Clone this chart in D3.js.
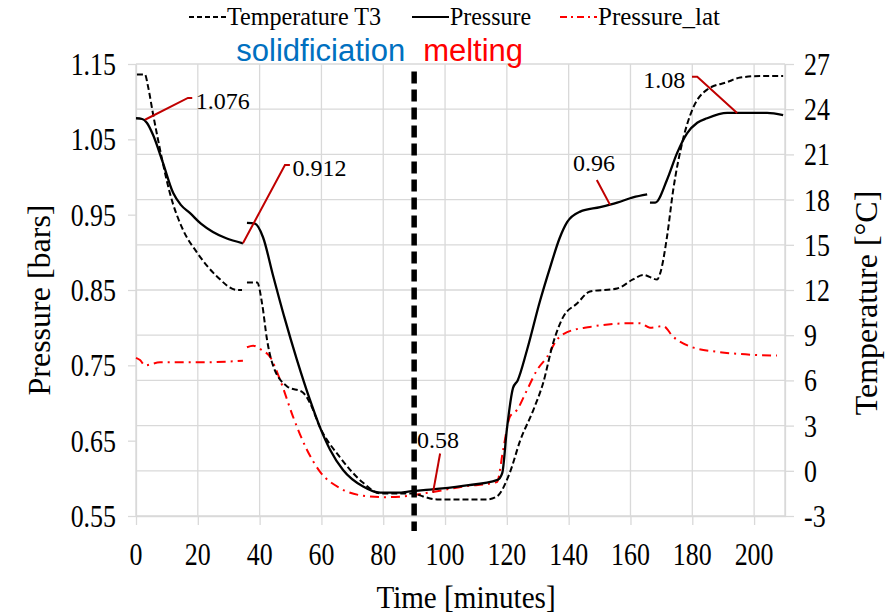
<!DOCTYPE html>
<html>
<head>
<meta charset="utf-8">
<script src="https://cdn.jsdelivr.net/npm/d3@7"></script>
<style>
body { margin: 0; background: #fff; }
text { font-family: "Liberation Serif", "Times New Roman", serif; fill: #000; }
</style>
</head>
<body>
<svg width="889" height="616"></svg>
<script>
// ticks
const timeTicks = [0, 20, 40, 60, 80, 100, 120, 140, 160, 180, 200]
const pressureTicks = [0.55, 0.65, 0.75, 0.85, 0.95, 1.05, 1.15]
const tempTicks = [-3, 0, 3, 6, 9, 12, 15, 18, 21, 24, 27]

// Pressure (left axis), null = gap in the record
const pressTime = [0, 2, 3.5, 5.5, 8.7, 12, 14.5, 17.5, 21, 24.9, 29, 34.6, 35.2,
  35.9, 38.5, 41.1, 44.3, 48, 52.1, 56.3, 59.5, 62.8, 67, 73.5, 79, 84.5, 89.3, 95.1, 105.8, 117, 118.5,
  120, 122, 123.5, 126.5, 130.7, 134, 137, 139.5, 143.7, 150.2, 155.7, 160.8, 165.4, 165.9,
  166.3, 168, 171.8, 175.1, 178.3, 181.6, 184.8, 191.3, 195.5, 204.2, 209.4]
const pressVals = [1.078, 1.077, 1.072, 1.056, 1.019, 0.979, 0.963, 0.952, 0.938, 0.927, 0.919, 0.912, null,
  0.939, 0.938, 0.920, 0.870, 0.814, 0.757, 0.704, 0.668, 0.638, 0.611, 0.589, 0.581, 0.581, 0.583, 0.585, 0.590, 0.598, 0.607,
  0.665, 0.720, 0.730, 0.770, 0.835, 0.880, 0.918, 0.940, 0.954, 0.960, 0.966, 0.973, 0.977, null,
  0.966, 0.966, 0.996, 1.032, 1.058, 1.072, 1.078, 1.085, 1.085, 1.085, 1.082]

// Temperature T3 (right axis)
const tempTime = [0.3, 2.9, 3.9, 5.5, 7.8, 11, 15.2, 19.7, 26.2, 32.7, 34.3, 35.1,
  35.9, 39.2, 40.8, 42.4, 44, 48.9, 54, 56.3, 59.5, 66, 73.5, 79, 89.6, 92.9, 97.4, 113.6, 116.8,
  121, 124.3, 128.5, 131.7, 135, 138.2, 142.7, 146.9, 155.7, 160.8, 164.1, 168.6, 169.6,
  171.8, 173.8, 177, 180.3, 184.8, 191.3, 195.5, 201.9, 209.4]
const tempVals = [26.3, 26.3, 25.5, 23.7, 21.3, 18.4, 16.0, 14.5, 12.9, 12.0, 12.0, null,
  12.5, 12.5, 11.1, 8.7, 7.2, 5.6, 5.2, 4.5, 2.9, 0.9, -0.8, -1.5, -1.5, -1.7, -1.9, -1.9, -1.7,
  -0.1, 2.0, 4.0, 5.8, 8.5, 10.2, 11.1, 11.9, 12.1, 12.7, 13.0, 12.7, 13.1,
  15.5, 18.6, 22.0, 24.1, 25.3, 25.8, 26.1, 26.2, 26.2]

// Pressure_lat (left axis)
const latTime = [0, 1.3, 2.9, 7.8, 20.7, 34.6, 35.2,
  35.9, 37.9, 40.8, 43.4, 46.6, 50.8, 55.3, 59.5, 66, 73.5, 81.2, 88.7, 96.1, 105.8, 116.8,
  118.8, 121, 123.3, 126.5, 129.8, 133, 136.2, 139.5, 146.9, 160.8, 163.1, 166.3, 170.6,
  173.8, 179.3, 188, 195.5, 207.4]
const latVals = [0.760, 0.757, 0.750, 0.754, 0.754, 0.756, null,
  0.774, 0.776, 0.770, 0.761, 0.731, 0.682, 0.638, 0.609, 0.587, 0.577, 0.575, 0.577, 0.582, 0.589, 0.595,
  0.638, 0.682, 0.691, 0.717, 0.744, 0.761, 0.784, 0.794, 0.801, 0.806, 0.806, 0.800, 0.802,
  0.788, 0.775, 0.768, 0.765, 0.763]

// data labels: text, point on curve, elbow, end of leader, text spot
const annoText = ["1.076", "0.912", "0.58", "0.96", "1.08"]
const annoPoint = [[2.9, 1.076], [34.6, 0.912], [96.1, 0.581], [153.4, 0.963], [194.5, 1.085]]
const annoElbow = [[16.8, 1.105], [48.2, 1.016], [98.4, 0.633], [149.1, 0.996], [181.6, 1.133]]
const annoEnd = [[18.2, 1.105], [49.8, 1.016], [98.4, 0.633], [149.1, 0.996], [179.9, 1.133]]
const annoPos = [[19.3, 1.102], [50.6, 1.012], [97.7, 0.652], [148.2, 1.019], [177.7, 1.129]]
const annoAlign = ["start", "start", "middle", "middle", "end"]

const phaseTime = 90

var svg = d3.select("svg")
var plotLeft = 136, plotTop = 64, plotRight = 785, plotBottom = 516

const x = d3.scaleLinear().domain([0, 210]).range([plotLeft, plotRight])
const yP = d3.scaleLinear().domain([0.55, 1.15]).range([plotBottom, plotTop])
const yT = d3.scaleLinear().domain([-3, 27]).range([plotBottom, plotTop])

const grid = "#d9d9d9"

// text squeezed horizontally like the picture
function label(g, px, py, str, size, sx, anchor) {
    return g.append("text")
        .attr("transform", "translate(" + px + "," + py + ") scale(" + sx + ",1)")
        .attr("text-anchor", anchor)
        .attr("font-size", size)
        .text(str)
}

// grid
svg.append("g").selectAll("line")
    .data(tempTicks)
    .join("line")
    .attr("x1", plotLeft).attr("x2", plotRight)
    .attr("y1", d => yT(d)).attr("y2", d => yT(d))
    .attr("stroke", grid).attr("stroke-width", 1.3)

svg.append("g").selectAll("line")
    .data(timeTicks.concat([210]))
    .join("line")
    .attr("x1", d => x(d)).attr("x2", d => x(d))
    .attr("y1", plotTop).attr("y2", plotBottom)
    .attr("stroke", grid).attr("stroke-width", 1.3)

// axes (ticks only, labels drawn by hand)
function styleAxis(g) {
    g.selectAll("path, line").attr("stroke", grid).attr("stroke-width", 1.3)
    g.selectAll("text").remove()
}
svg.append("g").attr("transform", "translate(0," + plotBottom + ")")
    .call(d3.axisBottom(x).tickValues(timeTicks).tickSize(9).tickSizeOuter(0))
    .call(styleAxis)
svg.append("g").attr("transform", "translate(" + plotLeft + ",0)")
    .call(d3.axisLeft(yP).tickValues(pressureTicks).tickSize(8).tickSizeOuter(0))
    .call(styleAxis)
svg.append("g").attr("transform", "translate(" + plotRight + ",0)")
    .call(d3.axisRight(yT).tickValues(tempTicks).tickSize(9).tickSizeOuter(0))
    .call(styleAxis)

var labels = svg.append("g")
timeTicks.forEach(function (d) { label(labels, x(d), 565, d, 32, 0.81, "middle") })
pressureTicks.forEach(function (d) { label(labels, 116, yP(d) + 11, d3.format(".2f")(d), 32, 0.81, "end") })
tempTicks.forEach(function (d) { label(labels, 804, yT(d) + 11, d, 32, 0.81, "start") })

label(labels, 466, 608, "Time [minutes]", 32, 0.91, "middle")
labels.append("text")
    .attr("transform", "translate(50,300) rotate(-90)")
    .attr("text-anchor", "middle").attr("font-size", 32)
    .text("Pressure [bars]")
labels.append("text")
    .attr("transform", "translate(877,303) rotate(-90)")
    .attr("text-anchor", "middle").attr("font-size", 32)
    .text("Temperature [°C]")

// series
function zipped(ts, vs) { return ts.map((t, i) => [t, vs[i]]) }

const lineP = d3.line().defined(d => d[1] != null)
    .x(d => x(d[0])).y(d => yP(d[1])).curve(d3.curveMonotoneX)
const lineT = d3.line().defined(d => d[1] != null)
    .x(d => x(d[0])).y(d => yT(d[1])).curve(d3.curveMonotoneX)

svg.append("path")
    .attr("d", lineP(zipped(latTime, latVals)))
    .attr("fill", "none").attr("stroke", "#ff0000").attr("stroke-width", 2)
    .attr("stroke-dasharray", "9,5,2,5")

svg.append("path")
    .attr("d", lineT(zipped(tempTime, tempVals)))
    .attr("fill", "none").attr("stroke", "#000").attr("stroke-width", 2)
    .attr("stroke-dasharray", "6,3")

svg.append("path")
    .attr("d", lineP(zipped(pressTime, pressVals)))
    .attr("fill", "none").attr("stroke", "#000").attr("stroke-width", 2.3)

// solidification / melting divider
svg.append("line")
    .attr("x1", x(phaseTime)).attr("x2", x(phaseTime))
    .attr("y1", yT(26.5)).attr("y2", yT(-4))
    .attr("stroke", "#000").attr("stroke-width", 5.5)
    .attr("stroke-dasharray", "12,6")

svg.append("text")
    .attr("x", x(phaseTime) - 9).attr("y", 61)
    .attr("text-anchor", "end")
    .style("font-family", "'Liberation Sans', Arial, sans-serif")
    .style("fill", "#0070c0")
    .attr("font-size", 31)
    .text("solidficiation")
svg.append("text")
    .attr("x", x(phaseTime) + 9).attr("y", 61)
    .style("font-family", "'Liberation Sans', Arial, sans-serif")
    .style("fill", "#ff0000")
    .attr("font-size", 31)
    .text("melting")

// data labels
var anno = svg.append("g")
annoText.forEach(function (t, i) {
    const pts = [annoPoint[i], annoElbow[i], annoEnd[i]]
    anno.append("polyline")
        .attr("points", pts.map(p => x(p[0]) + "," + yP(p[1])).join(" "))
        .attr("fill", "none").attr("stroke", "#c00000").attr("stroke-width", 2)
    anno.append("text")
        .attr("x", x(annoPos[i][0])).attr("y", yP(annoPos[i][1]))
        .attr("dy", "0.35em")
        .attr("text-anchor", annoAlign[i])
        .attr("font-size", 24)
        .text(t)
})

// legend
const legendNames = ["Temperature T3", "Pressure", "Pressure_lat"]
const legendColor = ["#000", "#000", "#ff0000"]
const legendDash = ["5,3", null, "7,4,2,4"]
const legendX = [189, 412, 560]
const legendLen = [154, 81, 122]
var legend = svg.append("g")
legendNames.forEach(function (n, i) {
    legend.append("line")
        .attr("x1", legendX[i]).attr("x2", legendX[i] + 37)
        .attr("y1", 17).attr("y2", 17)
        .attr("stroke", legendColor[i]).attr("stroke-width", 2)
        .attr("stroke-dasharray", legendDash[i])
    legend.append("text")
        .attr("x", legendX[i] + 38).attr("y", 25)
        .attr("font-size", 26)
        .attr("textLength", legendLen[i])
        .attr("lengthAdjust", "spacingAndGlyphs")
        .text(n)
})
</script>
</body>
</html>
